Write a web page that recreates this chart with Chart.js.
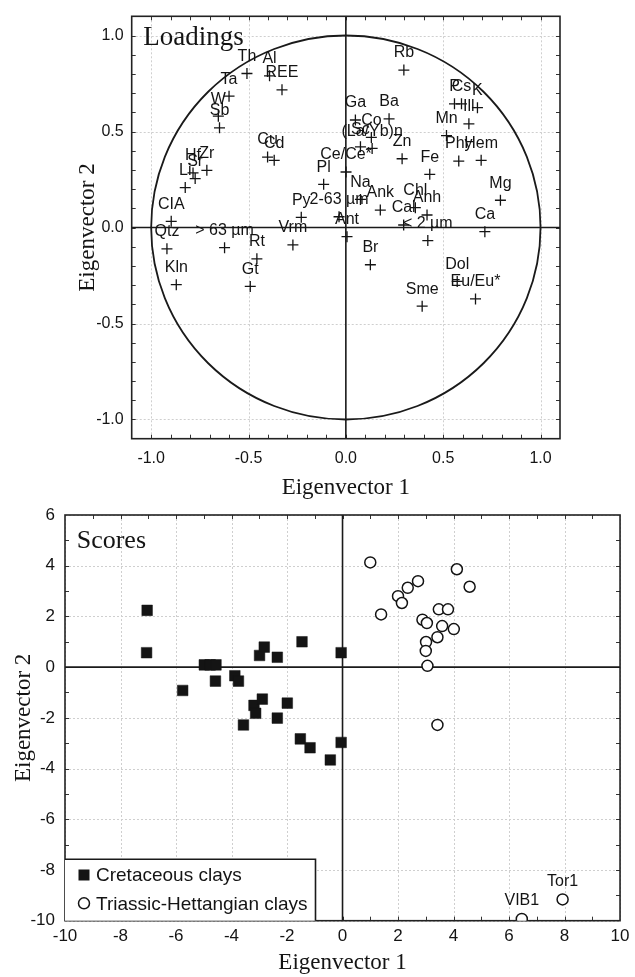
<!DOCTYPE html>
<html><head><meta charset="utf-8">
<script src="https://cdn.jsdelivr.net/npm/chart.js@4"></script>
<style>
html,body{margin:0;padding:0;background:#fff;overflow:hidden;}
#w1{position:absolute;left:0;top:0;width:635px;height:500px;}
#w2{position:absolute;left:0;top:500px;width:635px;height:477px;}
</style></head><body>
<div id="w1"><canvas id="c1" width="635" height="500"></canvas></div>
<div id="w2"><canvas id="c2" width="635" height="477"></canvas></div>
<script>
// ---------- Loadings (top) ----------
const loadingLabels = ['Th','Al','REE','Ta','W','Sb','Cu','Cd','Zr','Hf','Sr','Li','CIA','Qtz','> 63 µm','Kln','Rt','Gt','Vrm','Py','Pl','2-63 µm','Ce/Ce*','Ant','Ga','Ba','Co','Sc','(La/Yb)n','Zn','Na','Ank','Chl','Anh','Cal','< 2 µm','Fe','Rb','P','Cs','K','Ill','Mn','Phy','Hem','Mg','Ca','Br','Dol','Eu/Eu*','Sme'];
const loadingX = [-0.508,-0.392,-0.328,-0.600,-0.655,-0.649,-0.402,-0.368,-0.714,-0.785,-0.774,-0.825,-0.897,-0.919,-0.623,-0.871,-0.457,-0.491,-0.272,-0.229,-0.114,-0.035,0.001,0.006,0.049,0.222,0.131,0.075,0.135,0.289,0.075,0.177,0.357,0.417,0.297,0.421,0.431,0.298,0.558,0.594,0.676,0.632,0.517,0.580,0.695,0.794,0.714,0.126,0.572,0.666,0.392];
const loadingY = [0.802,0.790,0.717,0.684,0.580,0.519,0.367,0.350,0.298,0.284,0.255,0.208,0.032,-0.111,-0.105,-0.298,-0.163,-0.307,-0.091,0.053,0.225,0.056,0.289,-0.048,0.560,0.566,0.469,0.420,0.412,0.358,0.146,0.091,0.103,0.065,0.013,-0.068,0.277,0.820,0.644,0.644,0.624,0.540,0.479,0.346,0.350,0.142,-0.022,-0.194,-0.281,-0.372,-0.410];
const loadTicks = [-1.0,-0.5,0.0,0.5,1.0];

// ---------- Scores (bottom) ----------
const seriesNames = ['Cretaceous clays','Triassic-Hettangian clays'];
const cretX = [-7.04,-7.06,-4.98,-4.77,-4.56,-4.58,-5.76,-3.88,-3.75,-2.99,-2.82,-2.35,-1.46,-0.05,-3.19,-3.13,-2.89,-3.57,-2.35,-1.99,-1.52,-1.17,-0.44,-0.05];
const cretY = [2.24,0.57,0.09,0.09,0.09,-0.55,-0.92,-0.34,-0.55,0.46,0.79,0.39,1.00,0.57,-1.51,-1.82,-1.26,-2.28,-2.01,-1.42,-2.83,-3.18,-3.66,-2.97];
const triX = [1.00,4.12,4.58,2.72,2.35,2.00,2.14,1.39,3.47,3.80,2.88,3.04,3.59,4.01,3.42,3.01,3.00,3.06,3.42,6.46,7.93];
const triY = [4.13,3.86,3.17,3.39,3.13,2.80,2.53,2.08,2.28,2.28,1.87,1.74,1.62,1.50,1.18,0.99,0.64,0.05,-2.28,-9.93,-9.16];
const triNames = ['','','','','','','','','','','','','','','','','','','','VIB1','Tor1'];
const scoreXTicks = [-10,-8,-6,-4,-2,0,2,4,6,8,10];
const scoreYTicks = [-10,-8,-6,-4,-2,0,2,4,6];

const SANS = '"Liberation Sans", Arial, sans-serif';
const SERIF = '"Liberation Serif", "Times New Roman", serif';
const INK = '#141414';

const decor = {
  id: 'decor',
  beforeDatasetsDraw(chart, args, o) {
    const {ctx, chartArea: a, scales: {x, y}} = chart;
    ctx.save();
    const ln = (x1, y1, x2, y2) => { ctx.beginPath(); ctx.moveTo(x1, y1); ctx.lineTo(x2, y2); ctx.stroke(); };
    ctx.strokeStyle = '#cfcfcf'; ctx.lineWidth = 1; ctx.setLineDash([2, 2]);
    x.ticks.forEach(t => { if (t.value === 0) return; const p = Math.round(x.getPixelForValue(t.value)) + 0.5; ln(p, a.top, p, a.bottom); });
    y.ticks.forEach(t => { if (t.value === 0) return; const p = Math.round(y.getPixelForValue(t.value)) + 0.5; ln(a.left, p, a.right, p); });
    ctx.setLineDash([]);
    ctx.strokeStyle = '#333'; ctx.lineWidth = 1;
    const L = 4;
    const nx = Math.round((x.max - x.min) / o.minor);
    for (let k = 1; k < nx; k++) {
      const p = Math.round(x.getPixelForValue(x.min + k * o.minor)) + 0.5;
      ln(p, a.bottom, p, a.bottom - L); ln(p, a.top, p, a.top + L);
    }
    const ny = Math.round((y.max - y.min) / o.minor);
    for (let k = 1; k < ny; k++) {
      const p = Math.round(y.getPixelForValue(y.min + k * o.minor)) + 0.5;
      ln(a.left, p, a.left + L, p); ln(a.right, p, a.right - L, p);
    }
    ctx.strokeStyle = '#1a1a1a'; ctx.lineWidth = 1.6;
    const x0 = x.getPixelForValue(0), y0 = y.getPixelForValue(0);
    ln(x0, a.top, x0, a.bottom); ln(a.left, y0, a.right, y0);
    if (o.circle) {
      const rx = x.getPixelForValue(1) - x0, ry = y0 - y.getPixelForValue(1);
      ctx.lineWidth = 1.8; ctx.strokeStyle = '#1a1a1a';
      ctx.beginPath(); ctx.ellipse(x0, y0, rx, ry, 0, 0, Math.PI * 2); ctx.stroke();
    }
    ctx.lineWidth = 1.6; ctx.strokeStyle = '#222';
    ctx.strokeRect(a.left, a.top, a.right - a.left, a.bottom - a.top);
    ctx.fillStyle = INK; ctx.font = o.titleFont; ctx.textAlign = 'left'; ctx.textBaseline = 'alphabetic';
    ctx.fillText(o.title, a.left + o.titleDx, a.top + o.titleDy);
    ctx.restore();
  },
  afterDatasetsDraw(chart, args, o) {
    const {ctx} = chart;
    ctx.save();
    ctx.fillStyle = INK; ctx.font = o.labelFont; ctx.textAlign = 'center'; ctx.textBaseline = 'middle';
    chart.data.datasets.forEach((ds, di) => {
      if (!ds.pointNames) return;
      const meta = chart.getDatasetMeta(di);
      meta.data.forEach((pt, i) => {
        const s = ds.pointNames[i];
        if (s) ctx.fillText(s, pt.x, pt.y - o.labelDy);
      });
    });
    if (o.legend) {
      const a = chart.chartArea, lg = o.legend;
      const bx = a.left, by = a.bottom - lg.h, bw = lg.w, bh = lg.h;
      ctx.fillStyle = '#fff'; ctx.fillRect(bx, by, bw, bh);
      ctx.strokeStyle = '#1a1a1a'; ctx.lineWidth = 1.6;
      ctx.beginPath(); ctx.moveTo(bx, by); ctx.lineTo(bx + bw, by); ctx.lineTo(bx + bw, a.bottom); ctx.stroke();
      ctx.font = lg.font; ctx.textAlign = 'left'; ctx.textBaseline = 'middle';
      chart.data.datasets.forEach((ds, di) => {
        const cy = by + lg.row0 + di * lg.rowGap, cx = bx + lg.mx;
        ctx.lineWidth = 1.5; ctx.strokeStyle = INK;
        if (ds.pointStyle === 'rect') { ctx.fillStyle = INK; ctx.fillRect(cx - 5.5, cy - 5.5, 11, 11); }
        else { ctx.fillStyle = '#fff'; ctx.beginPath(); ctx.arc(cx, cy, 5.5, 0, Math.PI * 2); ctx.fill(); ctx.stroke(); }
        ctx.fillStyle = INK; ctx.fillText(ds.label, cx + lg.tx, cy + 1);
      });
    }
    ctx.restore();
  }
};

function axisOpts(min, max, tickVals, fmt, titleText, isX, fixed, tickPad, titlePad, tickSize) {
  return {
    type: 'linear', min, max,
    afterBuildTicks: s => { s.ticks = tickVals.map(v => ({value: v})); },
    afterFit: s => { if (isX) s.height = fixed; else s.width = fixed; },
    ticks: { callback: fmt, color: INK, padding: tickPad, font: {family: SANS, size: tickSize, lineHeight: isX ? 1.2 : 0.4}, maxRotation: 0, autoSkip: false },
    grid: { display: false, drawTicks: false },
    border: { display: false },
    title: { display: true, text: titleText, color: INK, font: {family: SERIF, size: 23, lineHeight: 1}, padding: titlePad }
  };
}

new Chart(document.getElementById('c1'), {
  type: 'scatter',
  data: { datasets: [{
    label: 'Loadings',
    data: loadingX.map((v, i) => ({x: v, y: loadingY[i]})),
    pointNames: loadingLabels,
    pointStyle: 'cross', pointRadius: 5.5, pointHoverRadius: 5.5,
    borderColor: INK, backgroundColor: INK, borderWidth: 1.3, pointBorderWidth: 1.3
  }]},
  options: {
    responsive: false, animation: false, events: [],
    layout: { padding: { left: 0, right: 75, top: 16.3, bottom: 0 } },
    plugins: { legend: {display: false}, tooltip: {enabled: false},
      decor: { minor: 0.1, circle: true, title: 'Loadings', titleFont: '27px ' + SERIF, titleDx: 11.5, titleDy: 28.7, labelFont: '16px ' + SANS, labelDy: 17 } },
    scales: {
      x: axisOpts(-1.1, 1.1, loadTicks, v => v.toFixed(1), 'Eigenvector 1', true, 61.3, 10, {top: 0, bottom: 0.5}, 16),
      y: axisOpts(-1.1, 1.1, loadTicks, v => v.toFixed(1), 'Eigenvector 2', false, 131.7, 8, {top: 76, bottom: 0}, 16)
    }
  },
  plugins: [decor]
});

new Chart(document.getElementById('c2'), {
  type: 'scatter',
  data: { datasets: [
    { label: seriesNames[0], data: cretX.map((v, i) => ({x: v, y: cretY[i]})),
      pointStyle: 'rect', pointRadius: 7.5, pointHoverRadius: 7.5,
      backgroundColor: INK, borderColor: INK, borderWidth: 0.5 },
    { label: seriesNames[1], data: triX.map((v, i) => ({x: v, y: triY[i]})), pointNames: triNames,
      pointStyle: 'circle', pointRadius: 5.5, pointHoverRadius: 5.5,
      backgroundColor: '#fff', borderColor: INK, borderWidth: 1.5, pointBorderWidth: 1.5 }
  ]},
  options: {
    responsive: false, animation: false, events: [],
    layout: { padding: { left: 0, right: 11, top: 15, bottom: 0 } },
    plugins: { legend: {display: false}, tooltip: {enabled: false},
      decor: { minor: 1, circle: false, title: 'Scores', titleFont: '26px ' + SERIF, titleDx: 11.7, titleDy: 33.3, labelFont: '16px ' + SANS, labelDy: 18,
        legend: { w: 250.5, h: 61.4, row0: 15.7, rowGap: 28.3, mx: 19, tx: 12, font: '19px ' + SANS } } },
    scales: {
      x: axisOpts(-10, 10, scoreXTicks, v => String(v), 'Eigenvector 1', true, 56.3, 5.5, {top: 0, bottom: 2.5}, 17),
      y: axisOpts(-10, 6, scoreYTicks, v => String(v), 'Eigenvector 2', false, 65, 10, {top: 12, bottom: 0}, 17)
    }
  },
  plugins: [decor]
});
</script>
</body></html>
